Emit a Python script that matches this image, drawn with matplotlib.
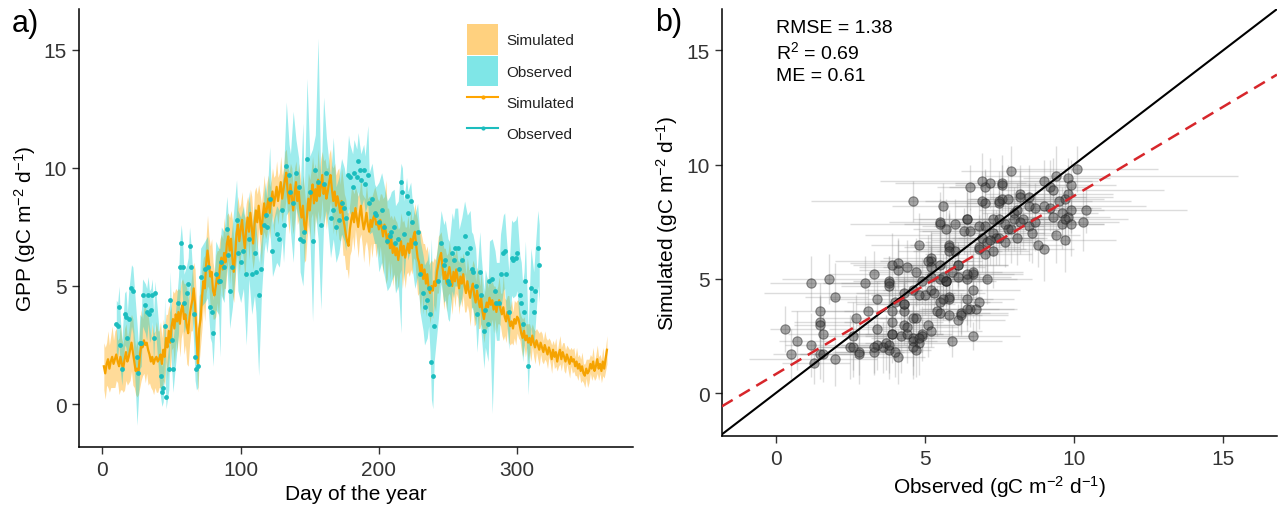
import numpy as np
import matplotlib
matplotlib.use('Agg')
import matplotlib.pyplot as plt
from matplotlib.patches import Patch
from matplotlib.lines import Line2D

plt.rcParams['font.family'] = ['Liberation Sans', 'DejaVu Sans']
plt.rcParams['mathtext.default'] = 'regular'

# simulated daily GPP, day 1..365
sim_gpp = [
    1.6, 1.3, 1.7, 1.9, 1.5, 1.8, 2.0, 1.7, 1.9, 2.1, 1.8, 1.6, 2.0, 1.7, 1.5, 1.9, 2.2, 1.8, 2.0, 2.3,
    2.6, 2.2, 1.8, 1.4, 1.5, 1.3, 2.0, 2.5, 2.4, 2.7, 2.5, 2.6, 2.3, 2.1, 1.8, 2.0, 1.7, 1.9, 2.0, 1.8,
    1.9, 2.1, 1.7, 2.3, 2.0, 2.8, 2.4, 3.1, 2.6, 3.3, 3.6, 3.2, 3.8, 3.5, 3.9, 3.4, 4.0, 4.2, 3.6, 3.8,
    3.3, 3.0, 3.7, 4.1, 4.4, 4.9, 4.2, 3.0, 1.7, 3.2, 3.6, 4.5, 5.2, 4.9, 5.9, 6.5, 6.0, 5.4, 5.6, 4.8,
    4.6, 5.0, 5.4, 5.1, 5.8, 6.2, 5.7, 6.4, 6.0, 6.8, 7.1, 6.5, 7.0, 6.2, 5.6, 6.3, 7.2, 7.6, 6.9, 7.4,
    7.8, 7.1, 6.6, 7.4, 7.9, 7.3, 8.1, 7.5, 6.8, 7.6, 8.2, 7.7, 8.4, 7.8, 7.2, 8.0, 8.5, 7.9, 8.3, 8.7,
    8.1, 8.6, 9.0, 8.4, 8.8, 9.2, 8.6, 9.0, 9.4, 8.7, 9.1, 9.5, 9.8, 9.0, 8.5, 9.3, 8.8, 8.2, 8.9, 9.4,
    8.6, 9.0, 8.3, 7.9, 8.4, 7.6, 7.3, 8.0, 8.7, 8.2, 8.9, 9.3, 8.5, 9.1, 8.6, 9.5, 8.8, 9.2, 9.7, 8.9,
    9.3, 8.7, 9.0, 9.4, 9.7, 9.1, 8.6, 9.0, 8.4, 8.8, 8.5, 8.1, 8.6, 7.9, 7.6, 7.2, 6.9, 6.7, 7.4, 7.8,
    8.1, 7.7, 8.3, 7.9, 7.5, 8.0, 8.4, 7.8, 7.4, 7.7, 8.1, 7.6, 7.3, 7.8, 7.5, 7.9, 8.0, 7.6, 7.7, 7.4,
    7.8, 7.5, 7.1, 7.6, 7.3, 6.8, 7.2, 6.6, 7.0, 6.4, 6.8, 6.3, 6.6, 6.1, 6.5, 6.9, 6.3, 6.7, 6.2, 6.5,
    6.8, 6.4, 7.0, 6.6, 7.1, 7.3, 6.7, 6.2, 6.0, 5.6, 5.9, 5.3, 5.7, 5.1, 5.5, 4.9, 4.7, 5.0, 4.8, 5.2,
    5.0, 5.6, 5.9, 6.2, 6.4, 5.8, 5.3, 5.6, 5.1, 5.5, 5.8, 5.4, 5.0, 5.6, 5.2, 5.7, 5.3, 4.9, 5.4, 5.1,
    5.5, 5.0, 4.7, 5.2, 4.8, 4.5, 4.9, 5.1, 4.6, 4.3, 4.8, 4.4, 4.1, 4.5, 3.9, 3.6, 4.0, 4.3, 4.1, 4.5,
    4.2, 4.4, 4.0, 4.3, 3.9, 4.2, 4.4, 4.0, 3.8, 4.1, 3.7, 3.5, 3.9, 3.6, 3.3, 3.5, 3.2, 3.6, 3.4, 3.7,
    3.6, 3.3, 3.0, 2.8, 3.1, 2.7, 2.9, 2.6, 2.8, 2.5, 2.9, 2.6, 2.4, 2.7, 2.5, 2.3, 2.6, 2.4, 2.2, 2.5,
    2.3, 2.1, 2.4, 2.2, 1.9, 2.3, 2.0, 2.2, 1.8, 2.1, 2.3, 1.9, 2.2, 2.0, 1.8, 2.1, 1.9, 1.7, 2.0, 1.8,
    1.9, 1.6, 1.8, 1.5, 1.7, 1.4, 1.6, 1.3, 1.2, 1.5, 1.3, 1.4, 1.7, 1.5, 1.8, 1.4, 1.6, 1.9, 1.5, 1.7,
    1.4, 1.8, 1.5, 1.9, 2.3,
]

# half width of the simulated uncertainty band, day 1..365
sim_sd = [
    1.0, 1.1, 0.9, 1.2, 1.0, 1.1, 1.3, 1.0, 1.2, 1.1, 0.9, 1.2, 1.4, 1.1, 1.0, 1.3, 1.2, 1.0, 1.1, 1.3,
    1.2, 1.4, 1.1, 1.0, 1.2, 0.9, 1.3, 1.5, 1.2, 1.4, 1.6, 1.3, 1.5, 1.2, 1.1, 1.4, 1.3, 1.2, 1.5, 1.3,
    1.2, 1.4, 1.1, 1.3, 1.2, 1.0, 1.4, 1.1, 1.3, 1.0, 1.2, 1.5, 1.1, 1.3, 1.0, 1.4, 1.2, 1.1, 1.5, 1.3,
    1.6, 1.4, 1.2, 1.0, 1.3, 1.1, 1.5, 1.3, 1.2, 1.4, 1.1, 1.3, 1.0, 1.4, 1.2, 1.5, 1.1, 1.3, 1.4, 1.2,
    1.0, 1.3, 1.1, 1.4, 1.2, 1.0, 1.3, 1.5, 1.1, 1.2, 1.0, 1.4, 1.2, 1.6, 1.3, 1.1, 1.0, 1.2, 1.4, 1.1,
    1.2, 1.0, 1.3, 1.1, 0.9, 1.2, 1.0, 1.3, 1.1, 1.4, 1.0, 1.2, 0.9, 1.1, 1.3, 1.0, 1.2, 0.9, 1.1, 1.0,
    1.1, 0.9, 1.0, 1.2, 0.9, 1.1, 1.0, 0.8, 1.1, 1.0, 0.9, 1.2, 1.0, 1.1, 1.3, 0.9, 1.2, 1.0, 1.1, 0.9,
    1.0, 1.2, 1.4, 1.1, 1.3, 1.6, 1.2, 1.0, 1.1, 1.3, 1.0, 1.2, 1.4, 1.1, 1.0, 1.3, 1.1, 1.2, 1.0, 1.4,
    1.1, 1.3, 1.0, 1.2, 1.1, 1.0, 1.4, 1.2, 1.3, 1.1, 1.5, 1.2, 1.4, 1.6, 1.3, 1.5, 1.2, 1.4, 1.1, 1.3,
    1.0, 1.2, 0.9, 1.1, 1.3, 1.0, 1.2, 1.1, 1.4, 1.0, 1.2, 1.1, 1.5, 1.0, 1.3, 1.1, 1.2, 1.4, 1.0, 1.2,
    1.1, 1.4, 1.6, 1.2, 2.2, 1.5, 1.1, 1.3, 1.0, 1.4, 1.2, 1.5, 1.1, 1.3, 1.0, 1.2, 1.4, 1.1, 1.3, 1.0,
    1.2, 1.0, 1.3, 1.1, 0.9, 1.2, 1.4, 1.6, 1.3, 1.8, 1.2, 1.5, 1.1, 1.4, 1.2, 1.0, 1.3, 1.1, 1.2, 1.0,
    1.1, 0.9, 1.2, 1.0, 0.9, 1.1, 1.3, 1.0, 1.2, 0.9, 1.1, 1.0, 1.2, 0.9, 1.1, 1.0, 0.8, 1.1, 0.9, 1.0,
    0.9, 1.1, 0.8, 1.0, 0.9, 1.2, 0.8, 1.0, 1.3, 0.9, 1.0, 1.2, 0.9, 1.1, 0.8, 1.0, 0.9, 1.1, 0.8, 1.0,
    0.9, 0.8, 1.0, 0.7, 0.9, 0.8, 1.0, 0.7, 0.9, 1.4, 0.8, 0.9, 0.7, 1.0, 0.8, 0.9, 0.7, 0.8, 0.9, 0.7,
    0.8, 0.6, 0.7, 0.8, 0.6, 0.7, 0.5, 0.8, 0.6, 0.7, 0.5, 0.6, 0.7, 0.5, 0.6, 0.7, 0.5, 0.6, 0.5, 0.6,
    0.5, 0.6, 0.4, 0.5, 0.6, 0.4, 0.5, 0.6, 0.4, 0.5, 0.6, 0.5, 0.4, 0.6, 0.5, 0.4, 0.5, 0.6, 0.4, 0.5,
    0.5, 0.4, 0.6, 0.5, 0.4, 0.5, 0.6, 0.4, 0.5, 0.4, 0.6, 0.5, 0.4, 0.5, 0.6, 0.4, 0.5, 0.6, 0.5, 0.4,
    0.5, 0.6, 0.4, 0.5, 0.6,
]

# observed GPP (days with data) and its uncertainty range
obs_day = [
    10, 11, 12, 13, 14, 16, 17, 18, 19, 21,
    22, 25, 26, 27, 28, 29, 31, 32, 33, 34,
    35, 36, 37, 38, 42, 43, 44, 45, 46, 48,
    49, 50, 51, 55, 56, 57, 58, 59, 61, 62,
    63, 64, 66, 67, 68, 69, 71, 74, 76, 78,
    79, 80, 82, 84, 85, 86, 88, 90, 91, 92,
    94, 97, 98, 100, 102, 104, 106, 108, 110, 111,
    113, 115, 117, 118, 119, 121, 123, 126, 128, 130,
    131, 133, 135, 136, 138, 140, 142, 143, 145, 146,
    148, 150, 152, 154, 156, 158, 160, 162, 165, 167,
    169, 171, 173, 175, 176, 178, 179, 181, 182, 184,
    185, 186, 187, 189, 190, 192, 193, 195, 197, 198,
    200, 202, 204, 206, 208, 209, 211, 212, 214, 216,
    217, 218, 220, 221, 223, 224, 226, 228, 230, 232,
    233, 235, 236, 237, 238, 239, 240, 243, 245, 247,
    248, 250, 251, 253, 254, 255, 257, 258, 260, 262,
    264, 266, 267, 268, 270, 271, 273, 274, 276, 277,
    279, 280, 282, 284, 285, 287, 288, 290, 291, 292,
    294, 296, 297, 299, 300, 302, 303, 304, 305, 306,
    308, 310, 311, 312, 313, 315, 316,
]
obs_gpp = [
    3.4, 3.3, 4.1, 2.5, 1.5, 3.8, 3.7, 2.8, 3.6, 4.9,
    4.8, 2.0, 1.3, 2.6, 2.6, 4.6, 4.2, 3.9, 4.6, 3.8,
    4.0, 4.6, 2.8, 4.7, 1.2, 0.5, 0.7, 3.3, 0.3, 1.5,
    4.4, 2.7, 1.5, 4.3, 5.8, 6.8, 5.8, 4.3, 4.7, 5.1,
    6.7, 5.8, 3.8, 2.0, 1.5, 1.6, 5.4, 5.7, 5.8, 4.1,
    3.9, 3.0, 5.5, 5.2, 5.2, 6.0, 5.8, 7.4, 6.3, 4.8,
    5.8, 7.8, 6.4, 6.0, 6.5, 5.5, 7.0, 5.5, 6.4, 5.6,
    4.6, 5.7, 7.6, 8.0, 7.5, 8.7, 6.5, 7.2, 7.0, 8.2,
    7.6, 10.1, 9.7, 9.0, 8.5, 9.8, 9.2, 7.0, 6.9, 7.3,
    10.4, 9.0, 6.9, 9.9, 9.4, 7.6, 9.3, 9.8, 7.9, 8.2,
    7.5, 7.8, 8.5, 8.3, 7.9, 9.7, 9.6, 9.2, 9.8, 9.6,
    10.3, 9.9, 9.5, 9.9, 9.3, 9.7, 8.5, 8.7, 8.1, 8.0,
    7.7, 8.2, 7.5, 6.9, 7.1, 7.3, 7.5, 6.8, 7.0, 9.4,
    9.0, 7.2, 8.8, 8.1, 8.6, 7.7, 6.8, 7.3, 5.5, 4.7,
    4.1, 4.4, 4.9, 3.8, 1.8, 1.2, 3.3, 5.2, 6.8, 5.9,
    6.1, 5.2, 5.1, 6.4, 6.1, 6.6, 6.6, 5.7, 6.1, 7.1,
    6.4, 6.6, 5.7, 5.6, 5.0, 3.8, 5.6, 4.6, 3.1, 4.0,
    3.4, 5.2, 5.3, 4.8, 4.3, 4.3, 5.5, 6.4, 6.5, 5.5,
    3.9, 6.2, 6.1, 6.2, 6.4, 4.6, 4.3, 3.4, 3.9, 5.2,
    1.6, 4.9, 4.4, 3.9, 4.8, 6.6, 5.9,
]
obs_lo = [
    2.2, 2.0, 2.6, 1.4, 0.8, 2.5, 2.4, 1.9, 2.3, 3.3,
    3.0, -0.9, 0.2, 1.5, 1.6, 3.3, 3.0, 2.7, 3.4, 2.6,
    2.8, 3.5, 1.7, 3.4, 0.3, -0.1, 0.1, 2.0, -0.2, 0.6,
    3.0, 1.6, 0.5, 3.0, 4.5, 5.4, 4.4, 3.0, 3.5, 3.8,
    5.2, 4.5, 2.6, 1.0, 0.6, 0.7, 4.1, 4.3, 4.5, 2.8,
    2.6, 1.6, 4.0, 3.8, 2.0, 4.6, 4.3, 5.9, 4.8, 3.2,
    4.1, 6.2, 4.8, 4.3, 4.9, 2.5, 5.3, 3.8, 4.6, 3.9,
    1.2, 4.6, 6.5, 6.9, 6.4, 7.5, 5.4, 6.0, 5.8, 7.0,
    6.0, 8.0, 8.2, 7.3, 6.0, 8.3, 7.8, 5.6, 5.0, 6.0,
    8.5, 7.2, 3.5, 8.1, 7.0, 4.0, 7.6, 8.2, 6.2, 7.0,
    6.0, 6.4, 7.2, 6.9, 6.5, 8.3, 8.1, 7.8, 8.4, 8.2,
    9.0, 8.7, 8.3, 8.7, 8.1, 8.5, 7.2, 7.3, 6.8, 6.8,
    5.6, 6.0, 5.4, 4.8, 5.0, 5.2, 5.5, 4.7, 5.0, 3.0,
    6.9, 5.2, 6.7, 6.1, 6.6, 5.8, 4.9, 5.4, 3.8, 3.1,
    2.5, 2.8, 3.3, 2.2, 0.2, -0.2, 1.8, 3.6, 5.1, 4.3,
    4.4, 3.6, 3.5, 4.8, 4.5, 5.0, 5.0, 4.1, 4.5, 5.5,
    4.8, 5.0, 4.1, 4.0, 3.4, 2.2, 4.0, 3.0, 1.5, 2.4,
    1.8, 3.6, -0.4, 3.2, 2.7, 2.7, 3.9, 4.8, 4.9, 3.9,
    2.3, 4.6, 4.5, 4.6, 4.8, 3.0, 2.7, 1.8, 2.3, 3.6,
    0.4, 3.3, 2.8, 2.3, 3.2, 5.0, 4.3,
]
obs_hi = [
    4.4, 4.3, 5.0, 3.6, 2.6, 4.7, 4.8, 3.9, 4.8, 5.9,
    5.8, 3.4, 2.5, 3.8, 3.7, 5.3, 5.1, 4.9, 5.4, 4.8,
    4.9, 5.3, 3.8, 5.2, 2.4, 1.6, 1.8, 4.5, 1.4, 2.6,
    5.6, 3.8, 2.6, 5.4, 6.9, 7.6, 6.9, 5.5, 5.9, 6.2,
    7.5, 6.8, 4.9, 3.1, 2.5, 2.7, 6.6, 6.9, 7.1, 5.4,
    5.2, 4.4, 6.9, 6.6, 6.6, 7.5, 7.3, 8.8, 7.9, 6.5,
    7.6, 9.5, 8.2, 7.9, 8.4, 7.4, 9.0, 7.5, 8.4, 7.6,
    6.0, 7.0, 9.0, 9.4, 8.7, 10.9, 7.6, 8.4, 8.2, 9.4,
    9.8, 12.8, 11.0, 10.6, 12.4, 11.2, 10.4, 9.0, 11.9, 9.0,
    13.8, 10.5, 10.8, 11.4, 15.5, 9.3, 13.0, 11.3, 9.6, 11.3,
    9.2, 9.6, 10.4, 10.0, 9.6, 11.4, 11.0, 10.6, 11.2, 10.8,
    11.5, 11.0, 10.6, 11.0, 10.5, 11.8, 9.8, 10.2, 9.3, 9.2,
    9.4, 9.8, 9.2, 8.6, 8.8, 9.0, 9.1, 8.4, 8.6, 10.2,
    10.0, 8.6, 9.6, 9.0, 9.4, 8.7, 8.0, 8.5, 6.9, 6.3,
    5.9, 6.1, 6.6, 5.6, 7.0, 3.5, 5.6, 6.9, 8.2, 7.6,
    7.8, 7.0, 6.9, 8.1, 7.8, 8.3, 8.3, 7.4, 7.9, 8.6,
    8.0, 8.2, 7.3, 7.2, 6.6, 5.5, 7.3, 6.3, 4.8, 5.7,
    5.1, 6.9, 7.0, 6.5, 6.0, 6.0, 7.2, 8.0, 8.1, 7.2,
    5.6, 7.8, 7.7, 7.8, 8.0, 6.3, 6.0, 5.1, 5.6, 6.9,
    3.2, 6.6, 6.1, 5.6, 6.5, 8.2, 7.6,
]

stats_lines = ['RMSE = 1.38', 'R$^2$ = 0.69', 'ME = 0.61']
fit_slope = 0.78
fit_intercept = 0.83

orange = '#FFA500'
cyan = '#00CED1'
dot_cyan = '#1CBDBE'

days = np.arange(1, len(sim_gpp) + 1)
sim = np.array(sim_gpp)
sd = np.array(sim_sd)
od = np.array(obs_day)
og = np.array(obs_gpp)
olo = np.array(obs_lo)
ohi = np.array(obs_hi)
sim_at_obs = sim[od - 1]
sd_at_obs = sd[od - 1]

fig = plt.figure(figsize=(12.8, 5.06), dpi=100)
ax1 = fig.add_axes([0.0617, 0.1146, 0.433, 0.866])
ax2 = fig.add_axes([0.564, 0.136, 0.4336, 0.844])

# a) time series
ax1.fill_between(days, sim - sd, sim + sd, color=orange, alpha=0.4, lw=0)
ax1.fill_between(od, olo, ohi, color=cyan, alpha=0.38, lw=0)
ax1.plot(days, sim, color='#F5A300', lw=1.6)
ax1.scatter(od, og, s=12, color=dot_cyan, zorder=3, lw=0)

handles = [Patch(facecolor=orange, alpha=0.5, lw=0),
           Patch(facecolor=cyan, alpha=0.5, lw=0),
           Line2D([], [], color=orange, lw=1.5, marker='.', ms=4),
           Line2D([], [], color=dot_cyan, lw=1.5, marker='.', ms=4)]
leg = ax1.legend(handles, ['Simulated', 'Observed', 'Simulated', 'Observed'],
                 loc='upper left', bbox_to_anchor=(0.687, 0.982), frameon=False,
                 fontsize=11, handlelength=2, handleheight=2.7, labelspacing=0.05,
                 borderpad=0, handletextpad=0.55)
for t in leg.get_texts():
    t.set_color('#222222')

ax1.set_xlim(-17, 384)
ax1.set_ylim(-1.82, 16.74)
ax1.set_xticks([0, 100, 200, 300])
ax1.set_yticks([0, 5, 10, 15])
ax1.set_xlabel('Day of the year', fontsize=15)
ax1.set_ylabel('GPP (gC m$^{-2}$ d$^{-1}$)', fontsize=15)

# b) observed vs simulated
ax2.errorbar(og, sim_at_obs, xerr=[og - olo, ohi - og], yerr=sd_at_obs, fmt='none',
             ecolor='#8c8c8c', elinewidth=1, alpha=0.3, capsize=0, zorder=1)
ax2.scatter(og, sim_at_obs, s=45, facecolor='#3a3a3a', edgecolor='#1a1a1a',
            alpha=0.45, lw=0.8, zorder=3)
ax2.axline((0, 0), slope=1, color='black', lw=1.5, zorder=4)
ax2.axline((0, fit_intercept), slope=fit_slope, color='#D7262B', lw=1.8,
           ls=(0, (5, 3)), zorder=5)
for i, line in enumerate(stats_lines):
    ax2.text(0, 16.0 - i * 1.05, line, fontsize=14, va='center', ha='left')

ax2.set_xlim(-1.8, 16.8)
ax2.set_ylim(-1.88, 16.8)
ax2.set_xticks([0, 5, 10, 15])
ax2.set_yticks([0, 5, 10, 15])
ax2.set_xlabel('Observed (gC m$^{-2}$ d$^{-1}$)', fontsize=15)
ax2.set_ylabel('Simulated (gC m$^{-2}$ d$^{-1}$)', fontsize=15)

for ax in (ax1, ax2):
    ax.spines[['top', 'right']].set_visible(False)
    ax.spines[['left', 'bottom']].set_linewidth(1.1)
    ax.tick_params(length=5, width=1, labelsize=15, colors='#333333', pad=4)

fig.text(0.009, 0.953, 'a)', fontsize=22, va='center', ha='left')
fig.text(0.512, 0.955, 'b)', fontsize=22, va='center', ha='left')

fig.savefig('out.png', dpi=100)
